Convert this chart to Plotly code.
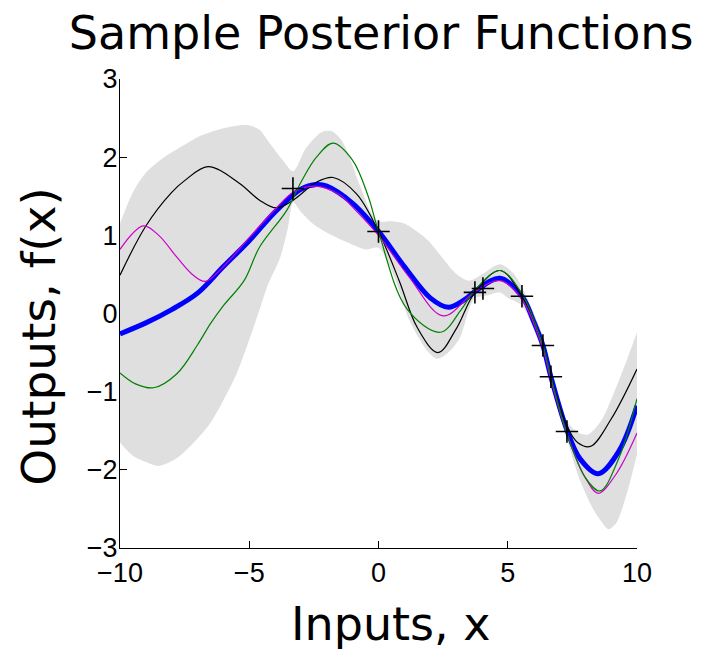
import plotly.graph_objects as go

# ---- data ----
band_upper_x = [-10, -9.5, -9, -8.2, -7.5, -6.9, -6, -5.1, -4.6, -4.3, -3.7, -3.3, -2.8, -2.2, -1.8, -1.4, -0.7, -0.3, 0, 0.5, 1, 1.9, 2.5, 3.0, 3.5, 3.9, 4.7, 5.2, 5.55, 6.36, 6.67, 7.3, 7.7, 8.1, 8.6, 9.1, 9.6, 10]
band_upper_y = [1.15, 1.55, 1.8, 2.02, 2.16, 2.27, 2.37, 2.41, 2.35, 2.22, 1.96, 1.82, 2.12, 2.32, 2.33, 2.2, 1.62, 1.3, 1.18, 1.18, 1.15, 0.94, 0.7, 0.51, 0.42, 0.48, 0.63, 0.52, 0.34, -0.29, -0.69, -1.38, -1.52, -1.55, -1.38, -1.02, -0.6, -0.24]

band_lower_x = [-10, -9.5, -9, -8.5, -7.8, -7.2, -6.5, -6, -5.5, -5.1, -4.6, -4.3, -3.8, -3.5, -3.3, -3.0, -2.5, -1.8, -1, -0.5, 0, 0.56, 1.2, 1.87, 2.27, 2.7, 3.15, 3.5, 3.73, 4.1, 4.7, 5.0, 5.55, 6.36, 6.67, 7.3, 7.8, 8.3, 8.6, 8.9, 9.2, 9.6, 10]
band_lower_y = [-1.65, -1.82, -1.9, -1.95, -1.85, -1.67, -1.4, -1.11, -0.78, -0.43, 0.05, 0.35, 0.72, 1.1, 1.42, 1.3, 1.14, 1.0, 0.88, 0.82, 0.84, 0.51, -0.09, -0.47, -0.58, -0.5, -0.31, 0.05, 0.2, 0.22, 0.27, 0.2, 0.1, -0.52, -0.92, -1.62, -2.14, -2.5, -2.65, -2.76, -2.68, -2.31, -1.8]

mean_x = [-10, -9, -8, -7, -6, -5, -4, -3, -2.4, -2, -1, 0, 1, 2, 2.7, 3.3, 3.8, 4.7, 5.55, 6.0, 6.36, 6.67, 7.3, 7.8, 8.5, 9.3, 10]
mean_y = [-0.26, -0.12, 0.05, 0.26, 0.6, 0.93, 1.3, 1.59, 1.65, 1.63, 1.41, 1.05, 0.6, 0.2, 0.08, 0.17, 0.3, 0.45, 0.22, -0.1, -0.41, -0.81, -1.5, -1.86, -2.05, -1.76, -1.18]

black_x = [-10, -9, -8, -7.5, -6.6, -5.4, -4.6, -3.95, -3.3, -2.4, -1.75, -0.85, 0, 0.8, 1.5, 2.3, 3.0, 3.73, 4.7, 5.55, 6.36, 6.67, 7.3, 7.7, 8.2, 9.0, 10]
black_y = [0.49, 1.12, 1.55, 1.7, 1.88, 1.67, 1.45, 1.35, 1.45, 1.68, 1.74, 1.53, 1.05, 0.42, -0.18, -0.5, -0.2, 0.27, 0.55, 0.22, -0.41, -0.81, -1.45, -1.65, -1.7, -1.35, -0.71]

magenta_x = [-10, -9.1, -8.5, -7.8, -7.2, -6.7, -6, -5, -4, -3.3, -2.5, -1.5, -1, 0, 1.2, 2.5, 3.7, 4.7, 5.55, 6.36, 6.67, 7.3, 8.0, 8.5, 9.2, 10]
magenta_y = [0.82, 1.12, 1.0, 0.72, 0.5, 0.41, 0.6, 0.97, 1.33, 1.55, 1.63, 1.52, 1.36, 1.0, 0.46, -0.03, 0.27, 0.42, 0.18, -0.45, -0.85, -1.55, -2.1, -2.3, -2.05, -1.53]

green_x = [-10, -9.4, -8.7, -7.8, -7, -6.5, -6, -5.2, -4.6, -3.55, -3.0, -2.4, -1.76, -1, -0.4, 0, 1.1, 2.4, 3.2, 3.73, 4.7, 5.55, 6.36, 6.67, 7.3, 8.0, 8.57, 9.3, 10]
green_y = [-0.76, -0.9, -0.95, -0.77, -0.4, -0.13, 0.1, 0.42, 0.85, 1.32, 1.68, 2.0, 2.18, 1.96, 1.5, 1.05, 0.06, -0.24, 0.05, 0.3, 0.55, 0.25, -0.41, -0.81, -1.55, -2.1, -2.27, -1.85, -1.09]

train_x = [-3.31, 0.0, 3.73, 4.04, 5.55, 6.36, 6.67, 7.29]
train_y = [1.60, 1.05, 0.27, 0.32, 0.22, -0.41, -0.81, -1.51]

x_ticks = [-10, -5, 0, 5, 10]
y_ticks = [-3, -2, -1, 0, 1, 2, 3]

fig = go.Figure()
fig.add_trace(go.Scatter(x=band_lower_x, y=band_lower_y, mode="lines",
                         line=dict(width=0, shape="spline", smoothing=0.8, color="#dfdfdf"),
                         showlegend=False, hoverinfo="skip"))
fig.add_trace(go.Scatter(x=band_upper_x, y=band_upper_y, mode="lines", fill="tonexty",
                         fillcolor="#dfdfdf",
                         line=dict(width=0, shape="spline", smoothing=0.8, color="#dfdfdf"),
                         showlegend=False, hoverinfo="skip"))
fig.add_trace(go.Scatter(x=mean_x, y=mean_y, mode="lines",
                         line=dict(color="#0000ff", width=5, shape="spline"), showlegend=False))
for xs, ys, col in [(black_x, black_y, "#000000"), (magenta_x, magenta_y, "#cc00cc"),
                    (green_x, green_y, "#008000")]:
    fig.add_trace(go.Scatter(x=xs, y=ys, mode="lines",
                             line=dict(color=col, width=1.2, shape="spline"), showlegend=False))
fig.add_trace(go.Scatter(x=train_x, y=train_y, mode="markers",
                         marker=dict(symbol="cross-thin", size=16,
                                     line=dict(color="black", width=1.6)),
                         showlegend=False))

axis_common = dict(showgrid=False, zeroline=False, showline=True, linecolor="black",
                   linewidth=1.2, ticks="inside", ticklen=7, tickcolor="black",
                   tickwidth=1.2, layer="below traces",
                   tickfont=dict(family="Liberation Sans", size=27, color="black"))
fig.update_xaxes(range=[-10, 10], tickvals=x_ticks, **axis_common)
fig.update_yaxes(range=[-3, 3], tickvals=y_ticks, ticklabelstandoff=-4, **axis_common)

# page has an 8px body margin, so the figure is sized to fit the 707x649 window
fig.update_layout(
    width=699, height=641,
    margin=dict(l=112, r=70, t=71, b=101),
    paper_bgcolor="white", plot_bgcolor="white",
    title=dict(text="Sample Posterior Functions", x=0.505, xref="paper", xanchor="center",
               y=1 - 25 / 641, yref="container", yanchor="middle",
               font=dict(family="DejaVu Sans", size=46, color="black")),
    annotations=[
        dict(text="Inputs, x", xref="paper", yref="paper", x=0.524, y=-0.162,
             xanchor="center", yanchor="middle", showarrow=False,
             font=dict(family="DejaVu Sans", size=46, color="black")),
        dict(text="Outputs, f(x)", xref="paper", yref="paper", x=-0.159, y=0.452,
             xanchor="center", yanchor="middle", textangle=-90, showarrow=False,
             font=dict(family="DejaVu Sans", size=47, color="black")),
    ],
)

fig.write_html("out.html")
